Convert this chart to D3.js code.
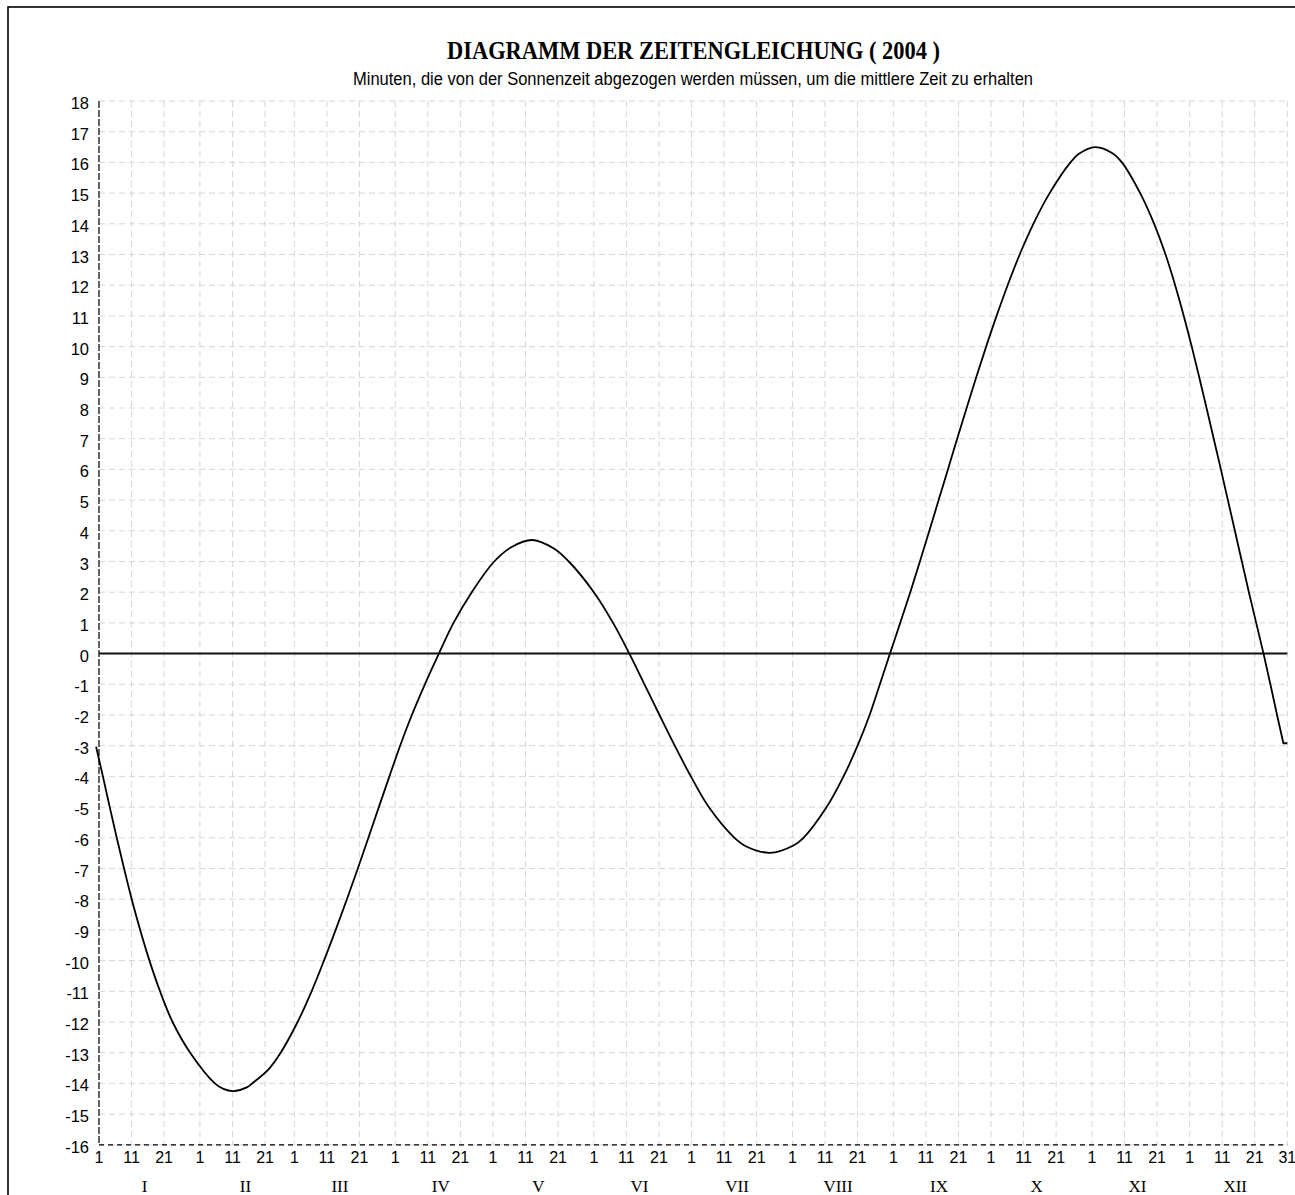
<!DOCTYPE html>
<html>
<head>
<meta charset="utf-8">
<script src="https://cdn.jsdelivr.net/npm/d3@7"></script>
<style>
  html, body { margin: 0; padding: 0; background: #fff; }
  svg { display: block; }
</style>
</head>
<body>
<script>
// ---------- DATA ----------
const titleText = "DIAGRAMM DER ZEITENGLEICHUNG ( 2004 )";
const subtitleText = "Minuten, die von der Sonnenzeit abgezogen werden müssen, um die mittlere Zeit zu erhalten";
const monthLabels = ["I","II","III","IV","V","VI","VII","VIII","IX","X","XI","XII"];
const monthStartDoy = [1,32,61,92,122,153,183,214,245,275,306,336];   // 2004 (leap year)
const dayOfMonthTicks = [1, 11, 21];
const lastDay = { doy: 366, label: "31" };
const yTickValues = [18,17,16,15,14,13,12,11,10,9,8,7,6,5,4,3,2,1,0,-1,-2,-3,-4,-5,-6,-7,-8,-9,-10,-11,-12,-13,-14,-15,-16];

// day of year and equation of time in minutes
const days = [0.1, 2.2, 4.3, 6.45, 8.7, 11.05, 13.65, 16.5, 19.75, 23.6, 29, 36.6, 39.2, 42.3, 46.4, 48.4,
  53.0, 56.8, 62.0, 66.3, 70.1, 73.7, 77.15, 80.5, 83.75, 86.95, 90.2, 93.5, 97.1, 101.1, 105.4, 109.9,
  115.5, 122.4, 127.9, 133.9, 140.6, 145.3, 153.0, 158.9, 163.9, 168.55, 173.15, 177.85, 182.8, 188.3,
  196.2, 200, 207.1, 214.3, 217.4, 224.5, 229.7, 234, 237.7, 240.85, 243.95, 247.1, 250.2, 253.15, 256.05,
  258.9, 261.75, 264.6, 267.5, 270.45, 273.5, 276.7, 280.1, 283.8, 288.0, 293.0, 299.4, 302.0, 307.0,
  312.3, 315.2, 320.8, 325.1, 328.6, 331.55, 334.2, 336.65, 338.95, 341.2, 343.4, 345.6, 347.75, 349.9,
  352.05, 354.2, 356.45, 358.7, 360.8, 362.85, 364.8, 366];
const minutes = [-3.03, -4, -5, -6, -7, -8, -9, -10, -11, -12, -13, -14, -14.18, -14.25, -14.13, -13.97,
  -13.55, -13, -12, -11, -10, -9, -8, -7, -6, -5, -4, -3, -2, -1, 0, 1,
  2, 3, 3.48, 3.7, 3.43, 3, 2, 1, 0, -1, -2, -3, -4, -5,
  -6, -6.29, -6.49, -6.25, -6, -5, -4, -3, -2, -1, 0, 1, 2, 3, 4,
  5, 6, 7, 8, 9, 10, 11, 12, 13, 14, 15, 16, 16.28, 16.5,
  16.3, 16, 15, 14, 13, 12, 11, 10, 9, 8, 7, 6, 5, 4,
  3, 2, 1, 0, -1, -2, -2.92, -2.92];

// ---------- LAYOUT ----------
const W = 1295, H = 1195;
const svg = d3.select("body").append("svg").attr("width", W).attr("height", H);

svg.append("rect").attr("x", 8).attr("y", 7).attr("width", 1320).attr("height", 1220)
  .attr("fill", "#fff").attr("stroke", "#000").attr("stroke-width", 1.6);

const x = d3.scaleLinear().domain([1, 366]).range([99, 1287.3]);
const y = d3.scaleLinear().domain([-16, 18]).range([1144.8, 101]);

const sans = "'Liberation Sans', Arial, Helvetica, sans-serif";
const serif = "'Liberation Serif', 'Times New Roman', serif";

// title
svg.append("text").attr("x", 447).attr("y", 59)
  .attr("font-family", serif).attr("font-weight", "bold").attr("font-size", 25)
  .attr("textLength", 493).attr("lengthAdjust", "spacingAndGlyphs")
  .text(titleText);
svg.append("text").attr("x", 353).attr("y", 84.5)
  .attr("font-family", sans).attr("font-size", 17.5)
  .attr("textLength", 680).attr("lengthAdjust", "spacingAndGlyphs")
  .text(subtitleText);

// x tick positions
const xTicks = [];
monthStartDoy.forEach(s => dayOfMonthTicks.forEach(d => xTicks.push({ doy: s + d - 1, label: String(d) })));
xTicks.push(lastDay);

const grid = svg.append("g").attr("stroke", "#d6d6d6").attr("stroke-width", 1)
  .attr("stroke-dasharray", "6,4").attr("fill", "none");
grid.selectAll("line.h").data(yTickValues).join("line").attr("class", "h")
  .attr("x1", x(1)).attr("x2", x(366))
  .attr("y1", d => y(d)).attr("y2", d => y(d));
grid.selectAll("line.v").data(xTicks.filter(t => t.doy !== 1)).join("line").attr("class", "v")
  .attr("x1", d => x(d.doy)).attr("x2", d => x(d.doy))
  .attr("y1", y(18)).attr("y2", y(-16));

// axes (dashed black)
svg.append("line").attr("x1", x(1)).attr("x2", x(1)).attr("y1", y(18)).attr("y2", y(-16))
  .attr("stroke", "#000").attr("stroke-width", 1.2).attr("stroke-dasharray", "7,2");
svg.append("line").attr("x1", x(1)).attr("x2", x(366)).attr("y1", y(-16)).attr("y2", y(-16))
  .attr("stroke", "#000").attr("stroke-width", 1.2).attr("stroke-dasharray", "5,4");

// zero line
svg.append("line").attr("x1", x(1)).attr("x2", x(366)).attr("y1", y(0)).attr("y2", y(0))
  .attr("stroke", "#111").attr("stroke-width", 2);

// y tick labels
svg.append("g").selectAll("text").data(yTickValues).join("text")
  .attr("x", 89).attr("y", d => y(d) + 2)
  .attr("text-anchor", "end").attr("dominant-baseline", "central")
  .attr("font-family", sans).attr("font-size", 16.5).attr("fill", "#000")
  .text(d => d);

// x tick labels
svg.append("g").selectAll("text").data(xTicks).join("text")
  .attr("x", d => x(d.doy)).attr("y", 1163)
  .attr("text-anchor", "middle")
  .attr("font-family", sans).attr("font-size", 16).attr("fill", "#000")
  .text(d => d.label);

// month labels
svg.append("g").selectAll("text").data(monthLabels).join("text")
  .attr("x", (d, i) => x(monthStartDoy[i] + 14)).attr("y", 1192)
  .attr("text-anchor", "middle")
  .attr("font-family", serif).attr("font-size", 17).attr("fill", "#000")
  .text(d => d);

// curve: smooth through the read points, final flat step drawn straight
const pts = days.map((d, i) => [d, minutes[i]]);
const smooth = d3.line().x(d => x(d[0])).y(d => y(d[1])).curve(d3.curveCatmullRom.alpha(0.5));
const straight = d3.line().x(d => x(d[0])).y(d => y(d[1]));
const n = pts.length;
svg.append("path").datum(pts.slice(0, n - 4)).attr("d", smooth)
  .attr("fill", "none").attr("stroke", "#000").attr("stroke-width", 1.8);
svg.append("path").datum(pts.slice(n - 5)).attr("d", straight)
  .attr("fill", "none").attr("stroke", "#000").attr("stroke-width", 1.8)
  .attr("stroke-linejoin", "round");
</script>
</body>
</html>
